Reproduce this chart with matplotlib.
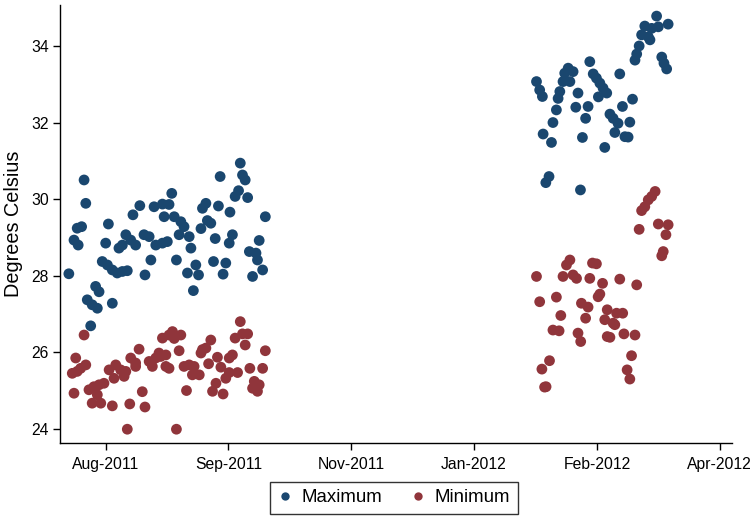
import numpy as np
import matplotlib
matplotlib.use("Agg")
import matplotlib.pyplot as plt
import matplotlib.dates as mdates
from matplotlib.lines import Line2D

plt.rcParams['font.family'] = ['Liberation Sans', 'DejaVu Sans']

# Days counted from 2011-07-27
BASE = np.datetime64('2011-07-27')

max_days = [0.0, 2.1, 3.4, 3.8, 5.2, 6.2, 6.9, 7.5, 8.9, 9.5, 10.9, 11.6, 12.3, 13.6, 15.0, 15.7, 16.1,
            17.7, 17.7, 19.7, 20.4, 21.8, 21.8, 23.2, 23.8, 25.2, 26.1, 27.2, 28.9, 30.6, 31.0, 32.7,
            33.4, 34.7, 35.4, 38.1, 38.1, 38.8, 40.1, 40.8, 41.9, 42.9, 43.8, 44.9, 45.6, 46.9, 48.3,
            49.0, 49.7, 50.7, 51.7, 52.8, 53.8, 54.4, 55.8, 56.4, 57.8, 58.9, 59.6, 60.9, 61.6, 62.8,
            63.9, 65.3, 65.6, 66.6, 67.7, 69.1, 69.8, 70.7, 71.8, 72.8, 73.5, 74.8, 76.2, 76.8, 77.5,
            78.9, 80.0,
            190.4, 191.7, 192.8, 193.1, 194.2, 195.5, 196.5, 197.1, 198.5, 199.2, 199.9, 201.2, 201.9,
            203.3, 204.0, 205.3, 206.4, 207.3, 208.3, 209.1, 210.4, 211.4, 212.1, 213.5, 214.8, 215.6,
            216.2, 217.5, 218.2, 219.0, 220.3, 221.6, 222.3, 223.6, 224.3, 225.4, 226.4, 227.7, 228.4,
            229.5, 230.5, 231.2, 232.2, 233.2, 234.5, 235.9, 236.6, 237.3, 239.3, 240.0, 241.4, 242.3,
            243.4, 244.0]
max_vals = [28.05, 28.93, 29.24, 28.80, 29.28, 30.50, 29.89, 27.37, 26.69, 27.24, 27.72, 27.15, 27.58,
            28.37, 28.85, 28.28, 29.35, 28.15, 27.28, 28.07, 28.72, 28.11, 28.80, 29.07, 28.13, 28.93,
            29.59, 28.80, 29.83, 29.07, 28.02, 29.02, 28.41, 29.80, 28.80, 29.87, 28.85, 29.54, 28.89,
            29.86, 30.15, 29.54, 28.41, 29.07, 29.41, 29.28, 28.07, 29.02, 28.72, 27.61, 28.28, 28.02,
            29.23, 29.76, 29.89, 29.44, 29.37, 28.37, 28.97, 29.82, 30.59, 28.04, 28.33, 28.85, 29.66,
            29.07, 30.07, 30.22, 30.94, 30.63, 30.50, 30.04, 28.63, 27.98, 28.59, 28.41, 28.92, 28.15,
            29.54,
            33.07, 32.85, 32.68, 31.70, 30.43, 30.59, 31.48, 32.00, 32.33, 32.63, 32.81, 33.07, 33.29,
            33.42, 33.07, 33.33, 32.40, 32.77, 30.24, 31.61, 32.11, 32.42, 33.59, 33.27, 33.16, 32.67,
            33.03, 32.90, 31.35, 32.77, 32.22, 32.11, 31.74, 31.98, 33.27, 32.42, 31.63, 31.62, 32.01,
            32.61, 33.63, 33.79, 34.00, 34.29, 34.52, 34.24, 34.16, 34.46, 34.78, 34.50, 33.71, 33.55,
            33.40, 34.57]

min_days = [1.4, 2.1, 2.8, 3.4, 4.8, 6.2, 6.9, 8.2, 9.5, 10.2, 11.6, 12.3, 13.0, 14.3, 16.4, 17.7, 18.4,
            19.1, 21.1, 22.5, 23.2, 23.8, 24.8, 25.2, 27.2, 27.2, 28.6, 29.9, 31.0, 32.7, 34.0, 35.4,
            36.7, 37.4, 38.1, 39.5, 39.5, 40.8, 40.8, 42.2, 42.9, 43.8, 44.9, 45.6, 46.9, 47.9, 49.0,
            50.3, 51.0, 53.1, 53.8, 54.4, 55.8, 56.9, 57.8, 58.5, 59.9, 60.5, 61.9, 62.8, 63.9, 65.3,
            65.3, 66.6, 67.7, 68.7, 69.8, 70.7, 71.8, 72.8, 73.7, 74.8, 75.5, 76.8, 77.5, 78.9, 80.0,
            190.4, 191.7, 192.6, 193.7, 194.3, 195.7, 197.1, 198.5, 199.6, 200.3, 201.2, 202.6, 204.0,
            205.3, 206.7, 207.3, 208.4, 208.7, 210.4, 211.4, 212.1, 213.2, 214.8, 215.5, 216.2, 217.3,
            218.2, 219.2, 219.2, 220.3, 221.6, 222.3, 223.0, 224.3, 225.5, 226.0, 227.3, 228.4, 229.1,
            230.5, 231.2, 232.2, 233.2, 234.5, 235.9, 237.3, 238.7, 240.0, 241.4, 242.0, 243.1, 244.0]
min_vals = [25.45, 24.93, 25.85, 25.50, 25.58, 26.45, 25.67, 25.02, 24.67, 25.10, 24.89, 25.15, 24.67,
            25.19, 25.54, 24.60, 25.32, 25.67, 25.54, 25.37, 25.50, 23.99, 24.65, 25.85, 25.72, 25.63,
            26.08, 24.97, 24.57, 25.76, 25.63, 25.85, 25.98, 25.89, 26.37, 25.93, 25.63, 26.45, 25.58,
            26.54, 26.36, 23.99, 26.04, 26.45, 25.63, 25.00, 25.67, 25.41, 25.63, 25.41, 25.98, 26.07,
            26.11, 25.70, 26.32, 24.98, 25.19, 25.87, 25.61, 24.91, 25.32, 25.85, 25.47, 25.93, 26.37,
            25.47, 26.80, 26.48, 26.19, 26.48, 25.58, 25.06, 25.24, 24.98, 25.15, 25.58, 26.04,
            27.98, 27.32, 25.56, 25.09, 25.10, 25.78, 26.58, 27.44, 26.56, 26.96, 27.98, 28.28, 28.41,
            28.02, 27.93, 26.50, 26.28, 27.28, 26.89, 27.18, 27.93, 28.33, 28.31, 27.45, 27.52, 27.80,
            26.85, 27.11, 26.41, 26.39, 26.76, 26.72, 27.02, 27.91, 27.02, 26.48, 25.54, 25.30, 25.91,
            26.45, 27.76, 29.21, 29.70, 29.80, 29.98, 30.07, 30.20, 29.35, 28.52, 28.63, 29.07, 29.33]

tick_dates = ['2011-08-11', '2011-09-30', '2011-11-19', '2012-01-08', '2012-02-27', '2012-04-17']
y_ticks = [24, 26, 28, 30, 32, 34]
series_names = ['Maximum', 'Minimum']
colors = ['#1a476f', '#90353b']

base_num = mdates.date2num(BASE)
xmax = base_num + np.array(max_days)
xmin = base_num + np.array(min_days)

fig = plt.figure(figsize=(7.55, 5.24), dpi=100)
ax = fig.add_axes([60/755, 1-443/524, (732-60)/755, (443-5)/524])

ax.scatter(xmax, max_vals, s=60, color=colors[0], edgecolors='none', zorder=3)
ax.scatter(xmin, min_vals, s=60, color=colors[1], edgecolors='none', zorder=3)

ax.set_xlim(base_num - 3.6, base_num + 270)
ax.set_ylim(23.63, 35.07)
ax.set_xticks([mdates.date2num(np.datetime64(d)) for d in tick_dates])
ax.xaxis.set_major_formatter(mdates.DateFormatter('%b-%Y'))
ax.set_yticks(y_ticks)
ax.tick_params(axis='both', direction='out', length=5, width=1, labelsize=11.3, colors='black')
ax.tick_params(axis='x', pad=5)
ax.tick_params(axis='y', pad=3)
for s in ['top', 'right']:
    ax.spines[s].set_visible(False)
for s in ['left', 'bottom']:
    ax.spines[s].set_linewidth(1)
ax.set_ylabel('Degrees Celsius', fontsize=14.3, labelpad=5.5)

handles = [Line2D([], [], marker='o', linestyle='none', markersize=6, color=c, markeredgecolor='none')
           for c in colors]
leg = fig.legend(handles, series_names, loc='upper center', bbox_to_anchor=(394/755, 1-482/524),
                 ncol=2, frameon=True, fancybox=False, fontsize=13.4, handletextpad=0.5,
                 columnspacing=1.5, borderpad=0.4, handlelength=0.8, borderaxespad=0)
leg.get_frame().set_edgecolor('black')
leg.get_frame().set_linewidth(1)

fig.savefig('out.png', dpi=100, facecolor='white')
